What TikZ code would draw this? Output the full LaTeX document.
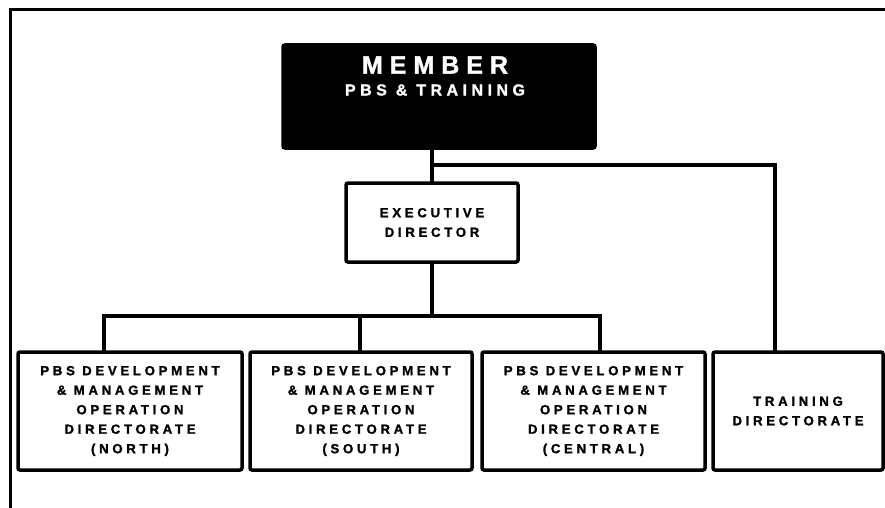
\documentclass[tikz,border=0pt]{standalone}
\usepackage{fontspec}
\setmainfont{Liberation Sans}
\newfontfamily\chartfont[LetterSpace=28,FakeBold=1.4]{Liberation Sans Bold}
\begin{document}
\begin{tikzpicture}[x=1pt,y=-1pt,
  line width=3.5pt,
  unitbox/.style={draw, rounded corners=2pt, inner sep=0pt, align=center,
    font=\chartfont\fontsize{13.2}{19.5}\selectfont},
  headbox/.style={fill=black, draw=black, rounded corners=2pt, inner sep=0pt},
  headtext/.style={text=white, inner sep=0pt},
  link/.style={line width=4pt, line cap=rect}]
\useasboundingbox (0,0) rectangle (885,508);

% page frame (top and left edges)
\draw[line width=3pt] (10,508) -- (10,10) -- (885,10);

% head of the organisation
\node[headbox, minimum width=312pt, minimum height=103pt] (member) at (439,96.5) {};
\node[headtext, font=\chartfont\fontsize{25}{26}\selectfont] (membertitle) at (435,65) {MEMBER};
\node[headtext, font=\chartfont\fontsize{16}{18}\selectfont] (membersub) at (435,90) {PBS \& TRAINING};

% executive director
\node[unitbox, minimum width=172pt, minimum height=79pt] (exec) at (432,222.5)
  {EXECUTIVE\\DIRECTOR};

% directorates
\node[unitbox, minimum width=224pt, minimum height=118pt] (north) at (130,411)
  {PBS DEVELOPMENT\\\& MANAGEMENT\\OPERATION\\DIRECTORATE\\(NORTH)};
\node[unitbox, minimum width=222pt, minimum height=118pt] (south) at (361,411)
  {PBS DEVELOPMENT\\\& MANAGEMENT\\OPERATION\\DIRECTORATE\\(SOUTH)};
\node[unitbox, minimum width=223pt, minimum height=118pt] (central) at (593.5,411)
  {PBS DEVELOPMENT\\\& MANAGEMENT\\OPERATION\\DIRECTORATE\\(CENTRAL)};
\node[unitbox, minimum width=170pt, minimum height=118pt] (training) at (798,411)
  {TRAINING\\DIRECTORATE};

% junction points
\coordinate (split) at (432,165);
\coordinate (bus) at (432,316);
\coordinate (tn) at (104,316);
\coordinate (ts) at (360,316);
\coordinate (tc) at (600,316);
\coordinate (tt) at (775,165);

% connectors
\draw[link] (member.south -| exec.north) -- (exec.north);
\draw[link] (split) -- (tt) -- (tt |- training.north);
\draw[link] (exec.south) -- (bus);
\draw[link] (tn) -- (tc);
\draw[link] (tn) -- (tn |- north.north);
\draw[link] (ts) -- (ts |- south.north);
\draw[link] (tc) -- (tc |- central.north);
\end{tikzpicture}
\end{document}
